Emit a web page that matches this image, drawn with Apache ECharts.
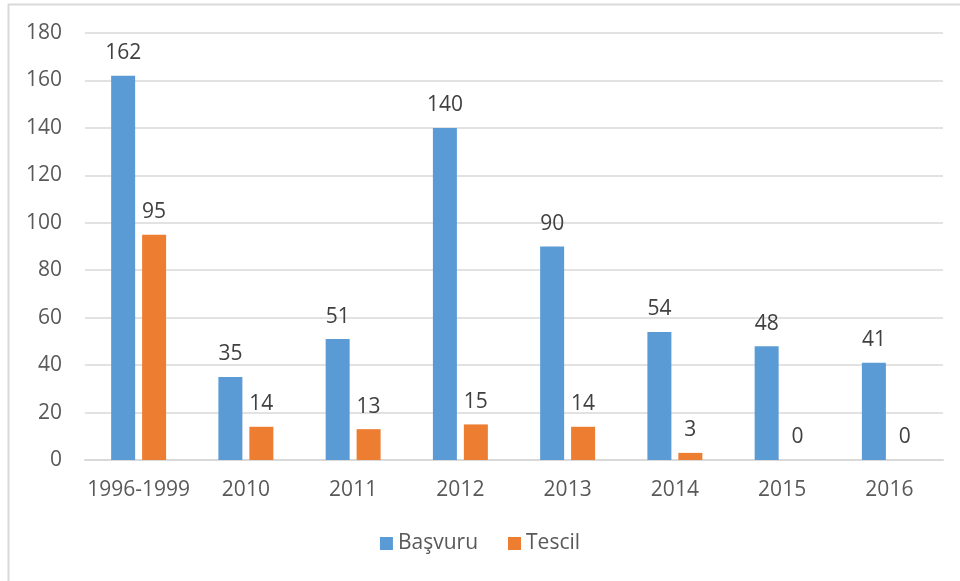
<!DOCTYPE html>
<html>
<head>
<meta charset="utf-8">
<script src="https://cdn.jsdelivr.net/npm/echarts@6/dist/echarts.min.js"></script>
<style>
  html, body { margin: 0; padding: 0; background: #fff; }
  #chart { width: 960px; height: 581px; }
</style>
</head>
<body>
<div id="chart"></div>
<script>
const categories = ["1996-1999", "2010", "2011", "2012", "2013", "2014", "2015", "2016"];
const basvuru = [162, 35, 51, 140, 90, 54, 48, 41];
const tescil = [95, 14, 13, 15, 14, 3, 0, 0];

const chart = echarts.init(document.getElementById("chart"));
const font = "Open Sans, Noto Sans, sans-serif";

const labelStyle = {
    show: true,
    position: "top",
    distance: 12,
    color: "#404040",
    fontSize: 21,
    fontFamily: font
};

chart.setOption({
    animation: false,
    graphic: [{
        type: "rect",
        shape: { x: 8.5, y: 4.5, width: 980, height: 600 },
        style: { fill: "none", stroke: "#d9d9d9", lineWidth: 2 },
        silent: true
    }],
    grid: { left: 85, right: 17, top: 33, bottom: 121, containLabel: false },
    legend: {
        bottom: 22,
        left: "center",
        itemWidth: 13,
        itemHeight: 13,
        itemGap: 30,
        icon: "rect",
        textStyle: { color: "#595959", fontSize: 21, fontFamily: font }
    },
    xAxis: {
        type: "category",
        data: categories,
        axisLine: { lineStyle: { color: "#d9d9d9", width: 2 } },
        axisTick: { show: false },
        axisLabel: { color: "#595959", fontSize: 21, fontFamily: font, margin: 20, interval: 0 }
    },
    yAxis: {
        type: "value",
        min: 0,
        max: 180,
        interval: 20,
        axisLine: { show: false },
        axisTick: { show: false },
        splitLine: { lineStyle: { color: "#d9d9d9", width: 1.5 } },
        axisLabel: { color: "#595959", fontSize: 21, fontFamily: font, margin: 23 }
    },
    series: [
        {
            name: "Başvuru",
            type: "bar",
            data: basvuru,
            barWidth: 24,
            barGap: "29%",
            itemStyle: { color: "#5b9bd5" },
            label: labelStyle
        },
        {
            name: "Tescil",
            type: "bar",
            data: tescil,
            barWidth: 24,
            itemStyle: { color: "#ed7d31" },
            label: labelStyle
        }
    ]
});
</script>
</body>
</html>
